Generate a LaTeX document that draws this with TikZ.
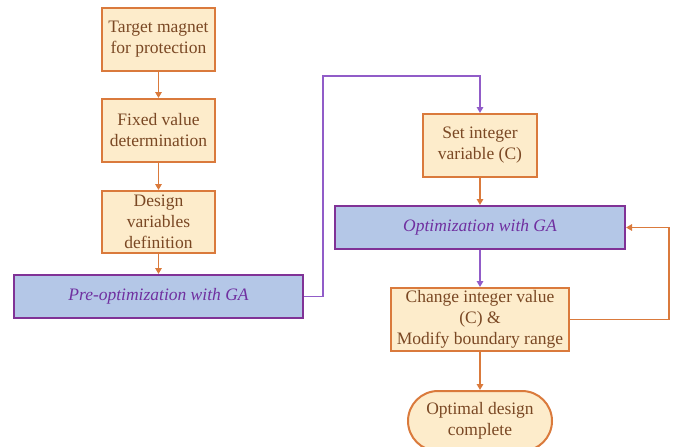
\documentclass[tikz,border=0pt]{standalone}
\usepackage{fontspec}
\setmainfont{Liberation Serif}
\usetikzlibrary{arrows.meta}
\definecolor{boxfill}{RGB}{253,236,203}
\definecolor{boxline}{RGB}{218,122,60}
\definecolor{boxtext}{RGB}{122,72,36}
\definecolor{gafill}{RGB}{180,199,231}
\definecolor{galine}{RGB}{128,50,150}
\definecolor{gatext}{RGB}{112,48,160}
\definecolor{purplink}{RGB}{145,92,200}
\tikzset{
  stepbox/.style={draw=boxline, fill=boxfill, line width=2pt, text=boxtext,
    align=center, inner sep=0pt, font=\fontsize{17.5}{21}\selectfont},
  gabox/.style={draw=galine, fill=gafill, line width=2pt, text=gatext,
    align=center, inner sep=0pt, font=\fontsize{17.5}{21}\selectfont\itshape},
  endbox/.style={stepbox, rounded corners=30pt},
  orlink/.style={draw=boxline, line width=1.6pt, -{Triangle[length=6pt,width=6.5pt]}},
  pulink/.style={draw=purplink, line width=1.6pt, -{Triangle[length=6pt,width=6.5pt]}},
}
\begin{document}
\begin{tikzpicture}[x=1pt,y=-1pt]
\useasboundingbox (0,0) rectangle (680,447);
\clip (0,0) rectangle (680,447);
% left column
\node[stepbox, minimum width=113pt, minimum height=63pt] (target) at (158.5,39.5) {Target magnet\\for protection};
\node[stepbox, minimum width=113pt, minimum height=63pt] (fixed) at (158.5,130.5) {Fixed value\\determination};
\node[stepbox, minimum width=113pt, minimum height=62pt] (design) at (158.5,222) {Design\\variables\\definition};
\node[gabox, minimum width=289pt, minimum height=43pt] (preopt) at (158.5,296.5) {Pre-optimization with GA};
% right column
\node[stepbox, minimum width=114pt, minimum height=63pt] (setint) at (480,145.5) {Set integer\\variable (C)};
\node[gabox, minimum width=290pt, minimum height=43pt] (opt) at (480,227.5) {Optimization with GA};
\node[stepbox, minimum width=178pt, minimum height=63pt] (change) at (480,319.5) {Change integer value\\(C) \&\\Modify boundary range};
\node[endbox, minimum width=144pt, minimum height=60pt] (final) at (480,421) {Optimal design\\complete};
% connectors
\coordinate (up) at (323,76);
\coordinate (loop) at (669,227.5);
\draw[orlink] (target) -- (fixed);
\draw[orlink] (fixed) -- (design);
\draw[orlink] (design) -- (preopt);
\draw[pulink] (preopt.east) -| (up) -| (setint.north);
\draw[orlink] (setint) -- (opt);
\draw[pulink] (opt) -- (change);
\draw[orlink] (change.east) -| (loop) -- (opt.east);
\draw[orlink] (change) -- (final);
\end{tikzpicture}
\end{document}
